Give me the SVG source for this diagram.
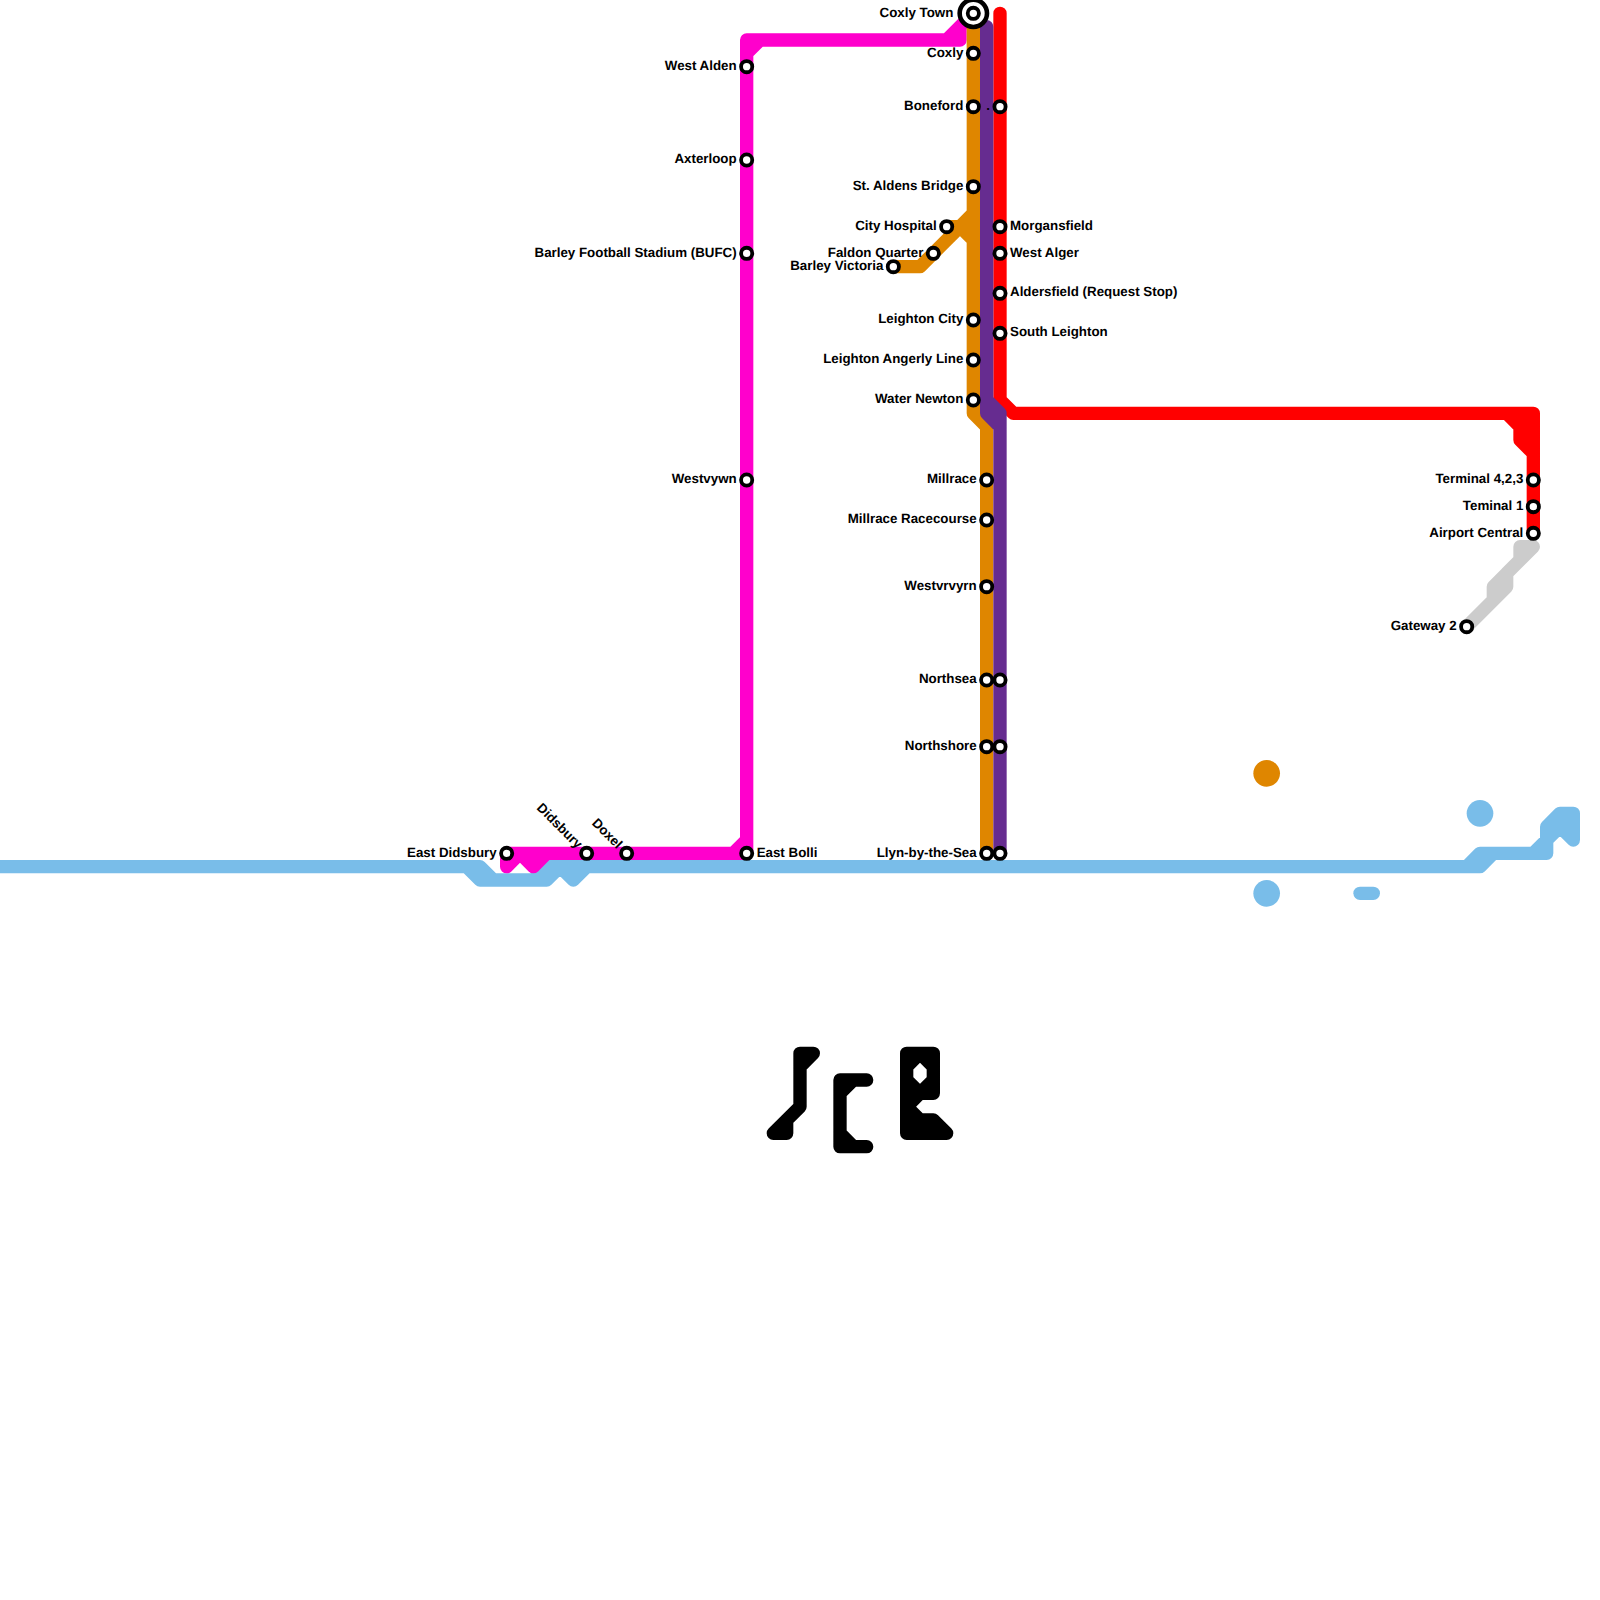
<svg xmlns="http://www.w3.org/2000/svg" width="1600" height="1600" viewBox="0 0 1600 1600">
<style>
.l{fill:none;stroke-width:13.33;stroke-linecap:round;stroke-linejoin:round}
.blue{stroke:#79bde9}.grey{stroke:#cccccc}.pink{stroke:#ff00cc}.orange{stroke:#df8600}.red{stroke:#ff0000}.purple{stroke:#662c90}.black{stroke:#000000}
.s{fill:#ffffff;stroke:#000000;stroke-width:3.8}
text{font-family:"Liberation Sans",Arial,sans-serif;font-weight:700;font-size:13.33px;fill:#000000;text-rendering:geometricPrecision}
.e{text-anchor:end}
</style>
<rect width="1600" height="1600" fill="#ffffff"/>
<g id="connectors">
<path class="l black" d="M813.33 1053.33H800V1106.67L773.33 1133.33H786.67V1120L800 1106.67M813.33 1053.33L800 1066.67"/>
<path class="l black" d="M866.67 1080H840V1146.67H866.67M853.33 1080L840 1093.33M840 1133.33L853.33 1146.67"/>
<path class="l black" d="M906.67 1133.33V1053.33H933.33V1093.33H920L906.67 1106.67L920 1120H933.33L946.67 1133.33H906.67M920 1053.33L906.67 1066.67M920 1053.33L933.33 1066.67M906.67 1080L920 1093.33L933.33 1080M920 1120V1133.33"/>
<path class="l blue" d="M0 866.67H480L493.33 880H546.67L560 866.67L573.33 880L586.67 866.67H1466.67L1480 853.33H1546.67V826.67L1560 813.33H1573.33V840L1560 826.67L1546.67 840M466.67 866.67L480 880H493.33M533.33 880L546.67 866.67H1480L1493.33 853.33M1533.33 853.33L1546.67 840M1560 813.33V826.67M1566.67 813.33V833.33"/>
<path class="l blue" d="M1360 893.33H1373.33"/>
<path class="l grey" d="M1466.67 626.67L1506.67 586.67V573.33L1533.33 546.67H1520V560L1493.33 586.67V600"/>
<path class="l pink" d="M506.67 866.67V853.33H746.67V40H960M506.67 866.67L520 853.33L533.33 866.67L546.67 853.33M733.33 853.33L746.67 840M746.67 53.33L760 40M946.67 40L973.33 13.33M960 26.67V40"/>
<path class="l orange" d="M973.33 13.33V413.33L986.67 426.67V853.33M973.33 213.33L960 226.67L973.33 240M960 226.67H946.67M960 226.67L920 266.67H893.33"/>
<path class="l red" d="M1000 13.33V400L1013.33 413.33H1533.33V533.33M1506.67 413.33L1520 426.67V440L1533.33 453.33M1520 413.33V426.67"/>
<path class="l purple" d="M986.67 26.67V413.33L1000 426.67V853.33M986.67 400L1000 413.33V426.67"/>
</g>
<circle id="dot-orange" cx="1266.67" cy="773.33" r="13.33" fill="#df8600"/>
<circle id="dot-blue-1" cx="1480" cy="813.33" r="13.33" fill="#79bde9"/>
<circle id="dot-blue-2" cx="1266.67" cy="893.33" r="13.33" fill="#79bde9"/>
<g id="coxly-town"><circle cx="973.33" cy="13.33" r="13.67" fill="#fff" stroke="#000" stroke-width="4.6"/><circle class="s" cx="973.33" cy="13.33" r="5.6"/><text class="e" x="953.33" y="16.6">Coxly Town</text></g>
<g id="coxly"><circle class="s" cx="973.33" cy="53.33" r="5.6"/><text class="e" x="963.33" y="56.6">Coxly</text></g>
<g id="boneford"><circle class="s" cx="973.33" cy="106.67" r="5.6"/><text class="e" x="963.33" y="109.9">Boneford</text></g>
<g id="boneford-east"><circle class="s" cx="1000" cy="106.67" r="5.6"/><text class="e" x="990" y="109.9">.</text></g>
<g id="st-aldens-bridge"><circle class="s" cx="973.33" cy="186.67" r="5.6"/><text class="e" x="963.33" y="189.9">St. Aldens Bridge</text></g>
<g id="city-hospital"><circle class="s" cx="946.67" cy="226.67" r="5.6"/><text class="e" x="936.67" y="229.9">City Hospital</text></g>
<g id="faldon-quarter"><circle class="s" cx="933.33" cy="253.33" r="5.6"/><text class="e" x="923.33" y="256.6">Faldon Quarter</text></g>
<g id="barley-victoria"><circle class="s" cx="893.33" cy="266.67" r="5.6"/><text class="e" x="883.33" y="269.9">Barley Victoria</text></g>
<g id="leighton-city"><circle class="s" cx="973.33" cy="320" r="5.6"/><text class="e" x="963.33" y="323.3">Leighton City</text></g>
<g id="leighton-angerly-line"><circle class="s" cx="973.33" cy="360" r="5.6"/><text class="e" x="963.33" y="363.3">Leighton Angerly Line</text></g>
<g id="water-newton"><circle class="s" cx="973.33" cy="400" r="5.6"/><text class="e" x="963.33" y="403.3">Water Newton</text></g>
<g id="millrace"><circle class="s" cx="986.67" cy="480" r="5.6"/><text class="e" x="976.67" y="483.3">Millrace</text></g>
<g id="millrace-racecourse"><circle class="s" cx="986.67" cy="520" r="5.6"/><text class="e" x="976.67" y="523.3">Millrace Racecourse</text></g>
<g id="westvrvyrn"><circle class="s" cx="986.67" cy="586.67" r="5.6"/><text class="e" x="976.67" y="589.9">Westvrvyrn</text></g>
<g id="northsea"><circle class="s" cx="986.67" cy="680" r="5.6"/><circle class="s" cx="1000" cy="680" r="5.6"/><text class="e" x="976.67" y="683.3">Northsea</text></g>
<g id="northshore"><circle class="s" cx="986.67" cy="746.67" r="5.6"/><circle class="s" cx="1000" cy="746.67" r="5.6"/><text class="e" x="976.67" y="749.9">Northshore</text></g>
<g id="llyn-by-the-sea"><circle class="s" cx="986.67" cy="853.33" r="5.6"/><circle class="s" cx="1000" cy="853.33" r="5.6"/><text class="e" x="976.67" y="856.6">Llyn-by-the-Sea</text></g>
<g id="morgansfield"><circle class="s" cx="1000" cy="226.67" r="5.6"/><text x="1010" y="229.9">Morgansfield</text></g>
<g id="west-alger"><circle class="s" cx="1000" cy="253.33" r="5.6"/><text x="1010" y="256.6">West Alger</text></g>
<g id="aldersfield"><circle class="s" cx="1000" cy="293.33" r="5.6"/><text x="1010" y="296">Aldersfield (Request Stop)</text></g>
<g id="south-leighton"><circle class="s" cx="1000" cy="333.33" r="5.6"/><text x="1010" y="336">South Leighton</text></g>
<g id="west-alden"><circle class="s" cx="746.67" cy="66.67" r="5.6"/><text class="e" x="736.67" y="69.9">West Alden</text></g>
<g id="axterloop"><circle class="s" cx="746.67" cy="160" r="5.6"/><text class="e" x="736.67" y="163.3">Axterloop</text></g>
<g id="barley-football-stadium"><circle class="s" cx="746.67" cy="253.33" r="5.6"/><text class="e" x="736.67" y="256.6">Barley Football Stadium (BUFC)</text></g>
<g id="westvywn"><circle class="s" cx="746.67" cy="480" r="5.6"/><text class="e" x="736.67" y="483.3">Westvywn</text></g>
<g id="east-bolli"><circle class="s" cx="746.67" cy="853.33" r="5.6"/><text x="756.67" y="856.6">East Bolli</text></g>
<g id="east-didsbury"><circle class="s" cx="506.67" cy="853.33" r="5.6"/><text class="e" x="496.67" y="856.6">East Didsbury</text></g>
<g id="didsbury"><circle class="s" cx="586.67" cy="853.33" r="5.6"/><text class="e" transform="translate(580 846.3) rotate(45)" x="0" y="4.3">Didsbury</text></g>
<g id="doxel"><circle class="s" cx="626.67" cy="853.33" r="5.6"/><text class="e" transform="translate(620 846.3) rotate(45)" x="0" y="4.3">Doxel</text></g>
<g id="terminal-423"><circle class="s" cx="1533.33" cy="480" r="5.6"/><text class="e" x="1523.33" y="483.3">Terminal 4,2,3</text></g>
<g id="terminal-1"><circle class="s" cx="1533.33" cy="506.67" r="5.6"/><text class="e" x="1523.33" y="509.9">Teminal 1</text></g>
<g id="airport-central"><circle class="s" cx="1533.33" cy="533.33" r="5.6"/><text class="e" x="1523.33" y="536.6">Airport Central</text></g>
<g id="gateway-2"><circle class="s" cx="1466.67" cy="626.67" r="5.6"/><text class="e" x="1456.67" y="629.9">Gateway 2</text></g>
</svg>
